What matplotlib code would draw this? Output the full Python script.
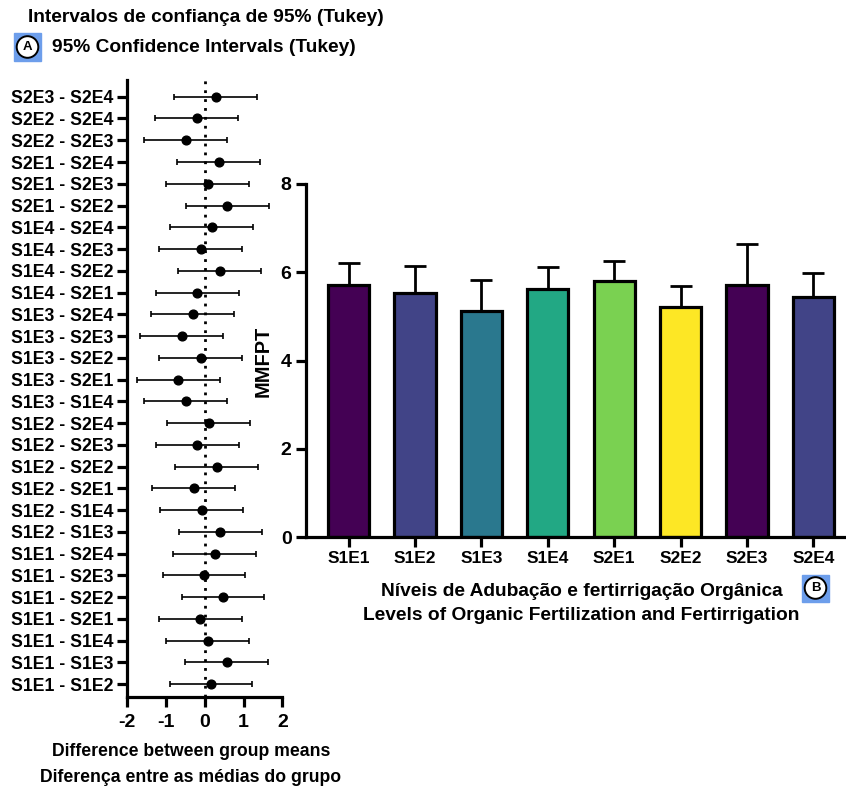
import matplotlib
matplotlib.use("Agg")
import matplotlib.pyplot as plt
from matplotlib.patches import Rectangle, Circle
import numpy as np

plt.rcParams["font.family"] = ["Liberation Sans", "DejaVu Sans"]
plt.rcParams["font.weight"] = "bold"
plt.rcParams["axes.unicode_minus"] = False

# Tukey comparisons, listed top to bottom
comparisons = [
    "S2E3 - S2E4", "S2E2 - S2E4", "S2E2 - S2E3", "S2E1 - S2E4", "S2E1 - S2E3",
    "S2E1 - S2E2", "S1E4 - S2E4", "S1E4 - S2E3", "S1E4 - S2E2", "S1E4 - S2E1",
    "S1E3 - S2E4", "S1E3 - S2E3", "S1E3 - S2E2", "S1E3 - S2E1", "S1E3 - S1E4",
    "S1E2 - S2E4", "S1E2 - S2E3", "S1E2 - S2E2", "S1E2 - S2E1", "S1E2 - S1E4",
    "S1E2 - S1E3", "S1E1 - S2E4", "S1E1 - S2E3", "S1E1 - S2E2", "S1E1 - S2E1",
    "S1E1 - S1E4", "S1E1 - S1E3", "S1E1 - S1E2",
]
mean_diff = [
    0.28, -0.21, -0.49, 0.36, 0.08,
    0.58, 0.18, -0.10, 0.39, -0.19,
    -0.31, -0.59, -0.10, -0.68, -0.49,
    0.10, -0.19, 0.31, -0.28, -0.08,
    0.40, 0.26, -0.02, 0.47, -0.12,
    0.08, 0.56, 0.16,
]
ci_half = 1.07

# group means (bar chart)
groups = ["S1E1", "S1E2", "S1E3", "S1E4", "S2E1", "S2E2", "S2E3", "S2E4"]
group_mean = [5.71, 5.54, 5.12, 5.62, 5.80, 5.22, 5.72, 5.43]
group_sd = [0.50, 0.60, 0.70, 0.49, 0.46, 0.46, 0.92, 0.55]
bar_colors = ["#440154", "#414487", "#2a788e", "#22a884",
              "#7ad151", "#fde725", "#440154", "#414487"]

W, H = 846, 787
fig = plt.figure(figsize=(W / 100, H / 100), dpi=100)


def fx(x):
    return x / W


def fy(y):
    return 1 - y / H


def axes_px(left, top, right, bottom):
    return fig.add_axes([fx(left), fy(bottom), (right - left) / W, (bottom - top) / H])


def style_axes(ax, size):
    for s in ["top", "right"]:
        ax.spines[s].set_visible(False)
    for s in ["left", "bottom"]:
        ax.spines[s].set_linewidth(2.3)
    ax.tick_params(width=2.3, length=7, labelsize=size, pad=3)


# ---- A: confidence intervals ----
ax1 = axes_px(127.3, 80, 282.3, 697.3)
n = len(comparisons)
ypos = np.arange(n)[::-1]
ax1.errorbar(mean_diff, ypos, xerr=ci_half, fmt="o", color="black", ms=6.3,
             elinewidth=1.2, capsize=2.5, capthick=1.2)
ax1.axvline(0, color="black", lw=2, ls=(0, (1, 2.2)), zorder=0)
ax1.set_xlim(-2, 2)
ax1.set_ylim(-0.61, n - 1 + 0.77)
ax1.set_yticks(ypos)
ax1.set_yticklabels(comparisons)
ax1.set_xticks([-2, -1, 0, 1, 2])
style_axes(ax1, 12.7)
ax1.tick_params(axis="x", labelsize=14, pad=5)

# ---- B: bar chart ----
ax2 = axes_px(305.5, 184, 846, 537.3)
x = np.arange(len(groups))
ax2.bar(x, group_mean, width=0.62, color=bar_colors, edgecolor="black",
        linewidth=2.3, zorder=2)
ax2.errorbar(x, group_mean, yerr=[np.zeros(len(groups)), group_sd], fmt="none",
             ecolor="black", elinewidth=2, capsize=8, capthick=2, zorder=1)
ax2.set_xlim(-0.65, 7.49)
ax2.set_ylim(0, 8)
ax2.set_yticks([0, 2, 4, 6, 8])
ax2.set_xticks(x)
ax2.set_xticklabels(groups)
style_axes(ax2, 12.5)
ax2.tick_params(axis="y", labelsize=14)

# ---- text ----
big = 13.8
fig.text(fx(206), fy(18), "Intervalos de confiança de 95% (Tukey)", ha="center",
         va="center", fontsize=big)
fig.text(fx(52), fy(47), "95% Confidence Intervals (Tukey)", ha="left",
         va="center", fontsize=big)
fig.text(fx(191), fy(752), "Difference between group means", ha="center",
         va="center", fontsize=12.7)
fig.text(fx(191), fy(777), "Diferença entre as médias do grupo", ha="center",
         va="center", fontsize=12.7)
fig.text(fx(263), fy(361), "MMFPT", ha="center", va="center", rotation=90,
         fontsize=14.4)
fig.text(fx(582), fy(592), "Níveis de Adubação e fertirrigação Orgânica",
         ha="center", va="center", fontsize=big)
fig.text(fx(581), fy(616), "Levels of Organic Fertilization and Fertirrigation",
         ha="center", va="center", fontsize=big)


def panel_tag(cx, cy, letter):
    s = 27
    fig.patches.append(Rectangle((fx(cx - s / 2), fy(cy + s / 2)), s / W, s / H,
                                 transform=fig.transFigure, color="#6d9eeb"))
    fig.patches.append(Circle((cx / 100, (H - cy) / 100), 0.108,
                              transform=fig.dpi_scale_trans, fc="white",
                              ec="black", lw=1.4))
    fig.text(fx(cx), fy(cy), letter, ha="center", va="center", fontsize=9.5)


panel_tag(27.5, 47, "A")
panel_tag(815.5, 588, "B")

fig.savefig("out.png", dpi=100)
